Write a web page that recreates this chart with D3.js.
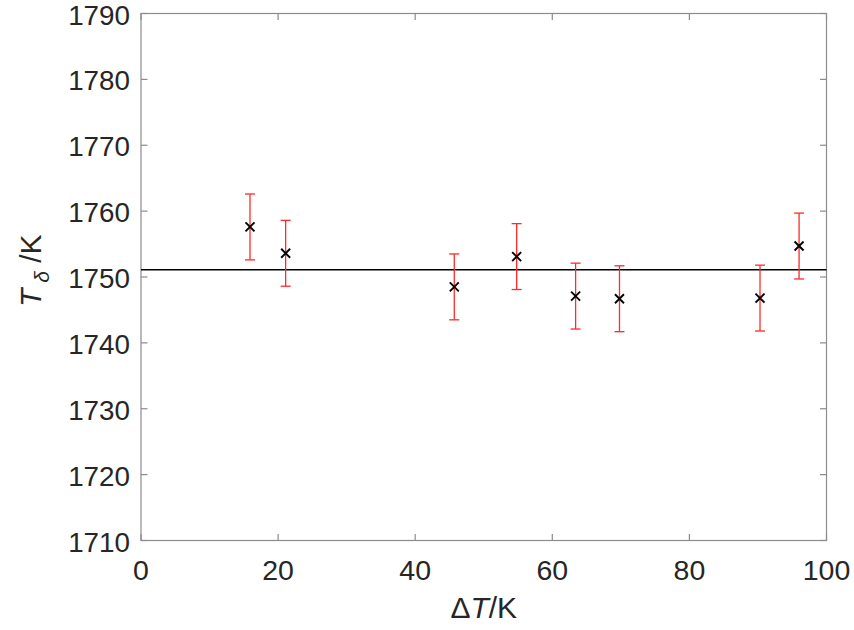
<!DOCTYPE html>
<html><head><meta charset="utf-8">
<script src="https://cdn.jsdelivr.net/npm/d3@7"></script>
<style>body{margin:0;background:#fff}svg{display:block}</style>
</head><body>
<svg id="c" width="854" height="630"></svg>
<script>
const deltaT = [15.9, 21.1, 45.7, 54.8, 63.4, 69.8, 90.3, 96.0];
const tDelta = [1757.6, 1753.6, 1748.5, 1753.1, 1747.1, 1746.7, 1746.8, 1754.7];
const errs = [5, 5, 5, 5, 5, 5, 5, 5];
const meanLine = 1751.1;
const xTicks = [0, 20, 40, 60, 80, 100];
const yTicks = [1710, 1720, 1730, 1740, 1750, 1760, 1770, 1780, 1790];

const svg = d3.select("#c");
const L = 141, R = 826.5, T = 13.5, B = 540.5;
const x = d3.scaleLinear().domain([0, 100]).range([L, R]);
const y = d3.scaleLinear().domain([1710, 1790]).range([B, T]);
const axisCol = "#8c8c8c", textCol = "#262626";
const font = "Liberation Sans, Arial, Helvetica, sans-serif";
const tickFs = 27.8;

// axes box
const g = svg.append("g");
g.append("rect").attr("x", L).attr("y", T).attr("width", R - L).attr("height", B - T)
  .attr("fill", "none").attr("stroke", axisCol).attr("stroke-width", 1.2);

const tl = 6.5;
xTicks.forEach(v => {
  g.append("line").attr("x1", x(v)).attr("x2", x(v)).attr("y1", B).attr("y2", B - tl).attr("stroke", axisCol).attr("stroke-width", 1.2);
  g.append("line").attr("x1", x(v)).attr("x2", x(v)).attr("y1", T).attr("y2", T + tl).attr("stroke", axisCol).attr("stroke-width", 1.2);
  g.append("text").attr("x", x(v)).attr("y", 580).attr("text-anchor", "middle")
    .attr("font-family", font).attr("font-size", 28.5).attr("fill", textCol).text(v);
});
yTicks.forEach(v => {
  g.append("line").attr("x1", L).attr("x2", L + tl).attr("y1", y(v)).attr("y2", y(v)).attr("stroke", axisCol).attr("stroke-width", 1.2);
  g.append("line").attr("x1", R).attr("x2", R - tl).attr("y1", y(v)).attr("y2", y(v)).attr("stroke", axisCol).attr("stroke-width", 1.2);
  g.append("text").attr("x", L - 11).attr("y", y(v) + 11).attr("text-anchor", "end")
    .attr("font-family", font).attr("font-size", tickFs).attr("fill", textCol).text(v);
});

// mean line
svg.append("line").attr("x1", x(0)).attr("x2", x(100)).attr("y1", y(meanLine)).attr("y2", y(meanLine))
  .attr("stroke", "#000").attr("stroke-width", 1.3);

// error bars
const eb = svg.append("g").attr("stroke", "#ff2a2a").attr("stroke-width", 1.3);
deltaT.forEach((d, i) => {
  const cx = x(d), y1 = y(tDelta[i] + errs[i]), y2 = y(tDelta[i] - errs[i]);
  eb.append("line").attr("x1", cx).attr("x2", cx).attr("y1", y1).attr("y2", y2);
  eb.append("line").attr("x1", cx - 5).attr("x2", cx + 5).attr("y1", y1).attr("y2", y1);
  eb.append("line").attr("x1", cx - 5).attr("x2", cx + 5).attr("y1", y2).attr("y2", y2);
});

// markers
const mk = svg.append("g").attr("stroke", "#000").attr("stroke-width", 1.9);
deltaT.forEach((d, i) => {
  const cx = x(d), cy = y(tDelta[i]), s = 4.5;
  mk.append("line").attr("x1", cx - s).attr("x2", cx + s).attr("y1", cy - s).attr("y2", cy + s);
  mk.append("line").attr("x1", cx - s).attr("x2", cx + s).attr("y1", cy + s).attr("y2", cy - s);
});

// x label
const xl = svg.append("text").attr("x", (L + R) / 2).attr("y", 618).attr("text-anchor", "middle")
  .attr("font-family", font).attr("font-size", 30).attr("fill", textCol);
xl.append("tspan").text("Δ");
xl.append("tspan").attr("font-style", "italic").text("T");
xl.append("tspan").text("/K");

// y label
const yl = svg.append("text").attr("transform", "translate(41,307) rotate(-90)").attr("text-anchor", "start")
  .attr("font-family", font).attr("font-size", 30).attr("fill", textCol);
yl.append("tspan").attr("font-style", "italic").text("T");
yl.append("tspan").attr("font-style", "italic").attr("font-size", 21).attr("dy", 8).text(" δ");
yl.append("tspan").attr("dy", -8).text(" /K");
</script>
</body></html>
